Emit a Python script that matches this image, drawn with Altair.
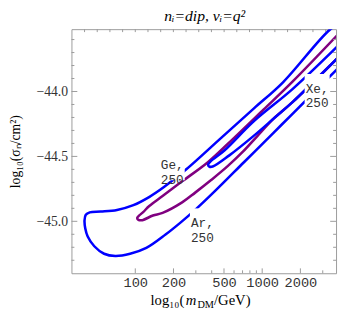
import math
import altair as alt
import pandas as pd

# ---------------- data ----------------
# x values are log10(m_DM / GeV), y values are log10(sigma_n / cm^2)
ar_x = [3.625, 3.533, 3.164, 2.933, 2.677, 2.395, 2.226, 2.112, 1.985, 1.856, 1.728, 1.641,
        1.610, 1.600, 1.606, 1.625, 1.677, 1.754, 1.843, 1.959, 2.087, 2.241, 2.356, 2.472,
        2.625, 2.856, 3.087, 3.241, 3.579, 3.702]
ar_y = [-43.472, -43.524, -43.929, -44.132, -44.357, -44.605, -44.736, -44.811, -44.875,
        -44.912, -44.925, -44.931, -44.950, -44.992, -45.055, -45.117, -45.192, -45.250,
        -45.267, -45.250, -45.205, -45.100, -45.010, -44.912, -44.770, -44.545, -44.320,
        -44.170, -43.839, -43.720]

ge_x = [3.625, 3.241, 3.010, 2.779, 2.572, 2.369, 2.215, 2.110, 2.062, 2.029, 2.015, 2.025,
        2.056, 2.139, 2.215, 2.369, 2.472, 2.600, 2.728, 2.850, 2.960, 3.100, 3.241, 3.625]
ge_y = [-43.532, -43.922, -44.140, -44.357, -44.545, -44.692, -44.805, -44.882, -44.929,
        -44.957, -44.974, -44.989, -44.991, -44.955, -44.935, -44.854, -44.779, -44.680,
        -44.575, -44.462, -44.345, -44.200, -44.080, -43.712]

xe_x = [3.625, 3.241, 2.933, 2.702, 2.595, 2.574, 2.583, 2.610, 2.741, 2.933, 3.100, 3.241,
        3.625]
xe_y = [-43.622, -43.980, -44.230, -44.455, -44.537, -44.563, -44.578, -44.578, -44.492,
        -44.342, -44.200, -44.080, -43.712]

label_text = ["Ge,\n250", "Ar,\n250", "Xe,\n250"]
label_x = [2.291, 2.529, 3.433]
label_y = [-44.569, -45.015, -43.98]

x_domain = [1.497, 3.582]
y_domain = [-45.40, -43.52]

x_label_masses = [100, 200, 500, 1000, 2000]
x_minor_masses = [300, 400, 600, 700, 800, 900, 3000]
top_ticks = [1.6, 1.7, 1.8, 1.9, 2.0, 2.1, 2.2, 2.3, 2.4, 2.5, 2.6, 2.7, 2.8, 2.9,
             3.0, 3.1, 3.2, 3.3, 3.4, 3.5]
y_major = [-45.0, -44.5, -44.0]
y_minor = [-45.3, -45.2, -45.1, -44.9, -44.8, -44.7, -44.6, -44.4, -44.3, -44.2,
           -44.1, -43.9, -43.8, -43.7, -43.6]

title_text = "nᵢ=dip, νᵢ=q²"
y_title = "log₁₀(σₙ/cm²)"
x_title_parts = ["log₁₀(", "m", "DM", "/GeV)"]

# ---------------- build ----------------
W, H = 271, 250
FRAME = "#9a9a9a"
BLUE = "#0000ff"
PURPLE = "#800080"

xs = alt.Scale(domain=x_domain, nice=False, zero=False)
ys = alt.Scale(domain=y_domain, nice=False, zero=False)

x_axis = alt.Axis(
    values=[math.log10(m) for m in x_label_masses],
    labelExpr="format(pow(10, datum.value), 'd')",
    ticks=False, domain=False, grid=False,
    labelFont="Liberation Mono", labelFontSize=14, labelColor="#333333",
    labelPadding=3, title=None,
)
y_axis = alt.Axis(
    values=y_major, format=".1f",
    ticks=False, domain=False, grid=False,
    labelFont="Liberation Serif", labelFontSize=14, labelColor="#333333",
    labelPadding=4,
    title=y_title, titleFont="Liberation Serif", titleFontSize=14,
    titleFontWeight="normal", titleColor="#000000",
    titleX=-57, titleY=H / 2, titleAngle=270, titleAlign="center", titleBaseline="middle",
)

X = alt.X("x:Q", scale=xs, axis=x_axis)
Y = alt.Y("y:Q", scale=ys, axis=y_axis)


def line(xv, yv, color):
    d = pd.DataFrame({"x": xv, "y": yv, "o": list(range(len(xv)))})
    return alt.Chart(d).mark_line(
        color=color, strokeWidth=2.6, interpolate="catmull-rom", clip=True
    ).encode(x=X, y=Y, order="o:Q")


ar = line(ar_x, ar_y, BLUE)
ge = line(ge_x, ge_y, PURPLE)
xe = line(xe_x, xe_y, BLUE)

lab_df = pd.DataFrame({"x": label_x, "y": label_y, "t": label_text})
boxes = alt.Chart(lab_df).mark_point(
    shape="M-0.84,-1L0.84,-1L0.84,1L-0.84,1Z", size=930, filled=True,
    fill="white", opacity=1, strokeWidth=0
).encode(x=X, y=Y)
labels = alt.Chart(lab_df).mark_text(
    lineBreak="\n", font="Liberation Mono", fontSize=13, lineHeight=15,
    color="#333333", baseline="middle", align="center"
).encode(x=X, y=Y, text="t:N")


def xrule_chart(vals, y0, y1):
    d = pd.DataFrame({"x": vals})
    return alt.Chart(d).mark_rule(color=FRAME, strokeWidth=1).encode(
        x=X, y=alt.value(y0), y2=alt.value(y1)
    )


def yrule_chart(vals, x0, x1):
    d = pd.DataFrame({"y": vals})
    return alt.Chart(d).mark_rule(color=FRAME, strokeWidth=1).encode(
        y=Y, x=alt.value(x0), x2=alt.value(x1)
    )


ticks = [
    xrule_chart(top_ticks, 0, 3),
    xrule_chart([math.log10(m) for m in x_label_masses], H, H - 5),
    xrule_chart([math.log10(m) for m in x_minor_masses], H, H - 3),
    yrule_chart(y_major, 0, 6),
    yrule_chart(y_minor, 0, 3),
    yrule_chart(y_major, W, W - 6),
    yrule_chart(y_minor, W, W - 3),
]


def free_text(txt, px, py, size=15, style="normal", align="left"):
    return alt.Chart(pd.DataFrame({"t": [txt]})).mark_text(
        font="Liberation Serif", fontSize=size, fontStyle=style, align=align,
        baseline="alphabetic", color="black"
    ).encode(x=alt.value(px), y=alt.value(py), text="t:N")


xt = [
    free_text(x_title_parts[0], 81, H + 33),
    free_text(x_title_parts[1], 117, H + 33, style="italic"),
    free_text(x_title_parts[2], 129, H + 36, size=10.5),
    free_text(x_title_parts[3], 146, H + 33),
]
title = free_text(title_text, W / 2 + 1, -8, size=16, style="italic", align="center")

chart = alt.layer(
    ar, ge, xe, *ticks, boxes, labels, *xt, title
).properties(
    width=W, height=H,
    padding={"left": 65, "top": 18, "right": 2, "bottom": 36},
    autosize=alt.AutoSizeParams(type="none"),
).configure_view(stroke=FRAME, strokeWidth=1)

chart.save("out.html", embed_options={"renderer": "svg", "actions": False})
